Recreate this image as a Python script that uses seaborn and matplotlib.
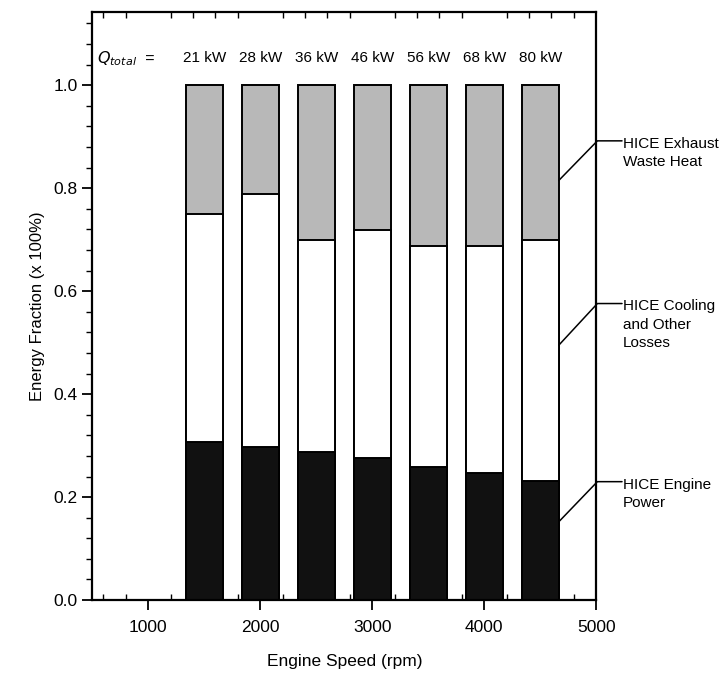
import matplotlib
matplotlib.use("Agg")
import matplotlib.pyplot as plt
import seaborn as sns
from matplotlib.ticker import MultipleLocator

# Values
engine_speed = [1500, 2000, 2500, 3000, 3500, 4000, 4500]
q_total = ["21 kW", "28 kW", "36 kW", "46 kW", "56 kW", "68 kW", "80 kW"]
engine_power = [0.307, 0.298, 0.288, 0.276, 0.259, 0.246, 0.232]
cooling_losses = [0.442, 0.490, 0.412, 0.442, 0.429, 0.442, 0.467]
exhaust_heat = [0.251, 0.212, 0.300, 0.282, 0.312, 0.312, 0.301]

# cumulative tops for stacking
top_exhaust = [p + c + e for p, c, e in zip(engine_power, cooling_losses, exhaust_heat)]
top_cooling = [p + c for p, c in zip(engine_power, cooling_losses)]

sns.set_style("ticks")
plt.rcParams['font.family'] = ['Liberation Sans', 'DejaVu Sans']
plt.rcParams.update({"text.color": "black", "axes.labelcolor": "black",
                     "xtick.color": "black", "ytick.color": "black",
                     "axes.edgecolor": "black"})

fig, ax = plt.subplots(figsize=(7.21, 6.75), dpi=100)
fig.subplots_adjust(left=0.128, right=0.827, top=0.982, bottom=0.111)

bar_kw = dict(native_scale=True, width=0.66, edgecolor="black", linewidth=1.4,
              ax=ax, errorbar=None, saturation=1)
sns.barplot(x=engine_speed, y=top_exhaust, color="#b8b8b8", **bar_kw)
sns.barplot(x=engine_speed, y=top_cooling, color="white", **bar_kw)
sns.barplot(x=engine_speed, y=engine_power, color="#111111", **bar_kw)

ax.set_xlim(500, 5000)
ax.set_ylim(0, 1.142)
ax.set_xticks([1000, 2000, 3000, 4000, 5000])
ax.set_yticks([0.0, 0.2, 0.4, 0.6, 0.8, 1.0])
ax.set_yticklabels(["0.0", "0.2", "0.4", "0.6", "0.8", "1.0"])
ax.xaxis.set_minor_locator(MultipleLocator(200))
ax.yaxis.set_minor_locator(MultipleLocator(0.04))
ax.tick_params(axis="x", which="major", direction="out", length=7, width=1.3, labelsize=12.5, pad=7)
ax.tick_params(axis="x", which="minor", direction="in", length=4, width=1, top=True)
ax.tick_params(axis="y", which="major", direction="out", length=7, width=1.3, labelsize=12.5)
ax.tick_params(axis="y", which="minor", direction="out", length=4, width=1)
for s in ax.spines.values():
    s.set_linewidth(1.6)

ax.set_xlabel("Engine Speed (rpm)", fontsize=12.5, labelpad=14)
ax.set_ylabel("Energy Fraction (x 100%)", fontsize=12, labelpad=6)

# Q_total labels above the bars
ax.text(545, 1.052, r"$Q_{total}$  =", fontsize=11.5, va="center", ha="left",
        fontstyle="italic")
for xs, q in zip(engine_speed, q_total):
    ax.text(xs, 1.052, q, fontsize=11, ha="center", va="center")

# callouts on the right
callouts = [("HICE Exhaust\nWaste Heat", 0.815, 0.892),
            ("HICE Cooling\nand Other\nLosses", 0.495, 0.576),
            ("HICE Engine\nPower", 0.152, 0.230)]
for label, y0, y1 in callouts:
    ax.plot([4665, 5010, 5230], [y0, y1, y1], color="black", lw=1.1, clip_on=False)
    ax.text(5240, y1 + 0.008, label, fontsize=11, ha="left", va="top",
            linespacing=1.4)

fig.savefig("out.png", dpi=100)
